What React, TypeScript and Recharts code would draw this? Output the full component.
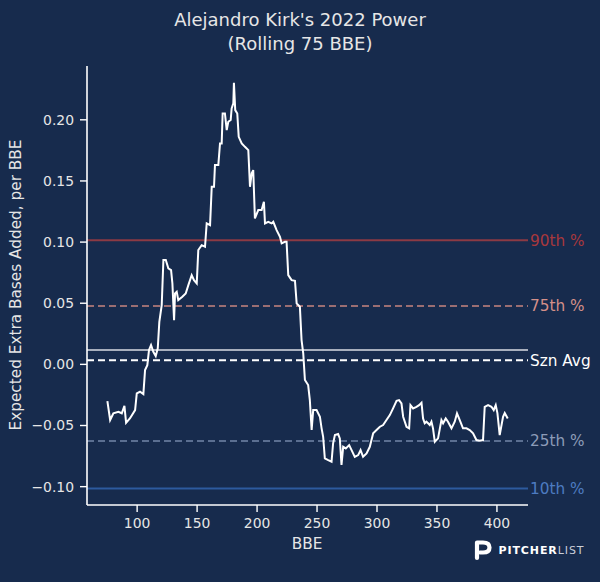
import React from 'react';
import { LineChart, Line, XAxis, YAxis, ReferenceLine } from 'recharts';

const bbe = [
  75.2, 77.5, 80.2, 84.4, 87.2, 89.4, 90.8, 94.1, 98.3, 99.7, 102.4, 105.2, 106.6, 108.5, 109.9, 111.6, 113.5, 115.5, 117.2, 118.5,
  120.5, 121.9, 123.9, 126.0, 128.3, 129.4, 130.8, 131.6, 133.0, 134.3, 137.7, 140.5, 142.7, 145.5, 147.4, 149.7, 151.0, 153.8, 156.6, 158.0,
  160.8, 162.2, 164.1, 164.9, 167.7, 169.1, 170.5, 171.3, 173.2, 174.7, 176.0, 178.0, 178.8, 180.2, 180.7, 181.8, 183.5, 184.7, 187.2, 189.9,
  192.7, 194.1, 195.5, 196.8, 198.2, 201.0, 203.8, 205.7, 206.6, 209.3, 212.1, 213.5, 216.3, 219.1, 220.5, 223.2, 224.6, 226.0, 228.8, 231.6,
  233.0, 235.7, 237.1, 238.5, 239.9, 242.6, 244.0, 245.5, 246.8, 249.6, 252.4, 253.8, 255.1, 256.5, 259.3, 262.1, 263.4, 264.9, 267.6, 269.0,
  270.4, 271.8, 274.0, 276.8, 278.8, 281.5, 284.3, 286.3, 288.4, 291.3, 294.0, 296.8, 299.6, 302.4, 305.1, 307.9, 310.7, 313.4, 316.3, 318.4,
  320.4, 321.8, 324.6, 326.8, 327.9, 330.1, 332.9, 335.1, 337.1, 338.4, 339.8, 341.2, 342.6, 344.0, 345.4, 346.7, 348.2, 350.9, 353.7, 355.1,
  357.3, 359.2, 362.1, 364.8, 366.7, 369.0, 371.7, 374.6, 377.3, 380.1, 382.9, 385.6, 388.4, 389.8, 392.6, 395.4, 397.3, 399.0, 400.4, 402.3,
  405.1, 406.5, 409.0,
];

const power = [
  -0.030, -0.0455, -0.040, -0.0388, -0.040, -0.034, -0.0478, -0.044, -0.0374, -0.0237, -0.0224, -0.0243, -0.0047, -0.0006, 0.0117, 0.0158, 0.0103, 0.0068, 0.0131, 0.0348,
  0.0485, 0.0853, 0.0853, 0.0785, 0.0771, 0.0662, 0.0362, 0.058, 0.0594, 0.0526, 0.0553, 0.058, 0.0648, 0.073, 0.0689, 0.0662, 0.0935, 0.0975, 0.0962, 0.1153,
  0.1139, 0.1452, 0.1452, 0.163, 0.163, 0.1807, 0.1807, 0.2052, 0.2052, 0.1916, 0.1984, 0.1998, 0.2093, 0.2134, 0.2303, 0.2079, 0.2052, 0.1861, 0.1807, 0.1779,
  0.1752, 0.1452, 0.1562, 0.1589, 0.1194, 0.1262, 0.1262, 0.133, 0.1153, 0.1166, 0.1153, 0.1166, 0.1098, 0.1043, 0.0989, 0.1002, 0.1002, 0.073, 0.0689, 0.0684,
  0.0499, 0.0471, 0.0199, 0.009, -0.0128, -0.0169, -0.0292, -0.0537, -0.0374, -0.0374, -0.0428, -0.0523, -0.0592, -0.0769, -0.0783, -0.0796, -0.0646, -0.0578, -0.057, -0.0605,
  -0.0823, -0.0674, -0.0687, -0.066, -0.0701, -0.0756, -0.0742, -0.0701, -0.0756, -0.0728, -0.0674, -0.0564, -0.0537, -0.051, -0.0496, -0.0455, -0.0415, -0.036, -0.0298, -0.0292,
  -0.0319, -0.0428, -0.051, -0.0523, -0.0333, -0.036, -0.0347, -0.0333, -0.0314, -0.0442, -0.0482, -0.0469, -0.0482, -0.0496, -0.0469, -0.0523, -0.0633, -0.0605, -0.0455, -0.0482,
  -0.0442, -0.0469, -0.0523, -0.0469, -0.0401, -0.0455, -0.0523, -0.0523, -0.0537, -0.0564, -0.0619, -0.0625, -0.0619, -0.0347, -0.0333, -0.0347, -0.0374, -0.0333, -0.0398, -0.0578,
  -0.0428, -0.0398, -0.0442,
];

const refLabels = ['90th %', '75th %', '', 'Szn Avg', '25th %', '10th %'];
const refValues = [0.1016, 0.0477, 0.0117, 0.0033, -0.0627, -0.1016];

const xTicks = [100, 150, 200, 250, 300, 350, 400];
const yTicks = [-0.1, -0.05, 0, 0.05, 0.1, 0.15, 0.2];

const titleLines = ["Alejandro Kirk's 2022 Power", '(Rolling 75 BBE)'];
const xLabel = 'BBE';
const yLabel = 'Expected Extra Bases Added, per BBE';

const BG = '#172b4d';
const FONT = '"DejaVu Sans", sans-serif';
const TXT = '#e6e6e6';

const refStyles = [
  { stroke: '#8c3a44', dash: undefined, label: '#a8383d', width: 2 },
  { stroke: '#9b6e72', dash: '7 4', label: '#d59089', width: 2 },
  { stroke: '#a8afbd', dash: undefined, label: '#a8afbd', width: 2 },
  { stroke: '#ffffff', dash: '7 4', label: '#ffffff', width: 2 },
  { stroke: '#5b6f91', dash: '7 4', label: '#8d9cb8', width: 2 },
  { stroke: '#2d5a9e', dash: undefined, label: '#4d7bc1', width: 2 },
];

const data = bbe.map((x, i) => ({ bbe: x, v: power[i] }));

const fmtY = (v: number) => {
  const s = Math.abs(v).toFixed(2);
  return v < -1e-9 ? '\u2212' + s : s;
};

export default function App() {
  return (
    <div
      style={{
        position: 'absolute',
        left: 0,
        top: 0,
        width: 600,
        height: 582,
        background: BG,
        fontFamily: FONT,
        overflow: 'hidden',
      }}
    >
      <div
        style={{
          position: 'absolute',
          left: 0,
          top: 8,
          width: 600,
          textAlign: 'center',
          color: TXT,
          fontSize: 18,
          lineHeight: '24px',
        }}
      >
        {titleLines.map((t) => (
          <div key={t}>{t}</div>
        ))}
      </div>
      <div style={{ position: 'absolute', left: 0, top: 0 }}>
        <LineChart
          width={600}
          height={582}
          data={data}
          margin={{ top: 66, right: 72, bottom: 47, left: 0 }}
        >
          <XAxis
            dataKey="bbe"
            type="number"
            domain={[58.2, 425.9]}
            allowDataOverflow
            ticks={xTicks}
            height={30}
            tickSize={7}
            tickMargin={6}
            axisLine={{ stroke: '#ffffff', strokeWidth: 1.6 }}
            tickLine={{ stroke: '#ffffff', strokeWidth: 1.4 }}
            tick={{ fill: TXT, fontSize: 13.9, fontFamily: FONT }}
          />
          <YAxis
            type="number"
            domain={[-0.115, 0.244]}
            allowDataOverflow
            ticks={yTicks}
            width={87}
            tickSize={7}
            tickMargin={6}
            tickFormatter={fmtY}
            axisLine={{ stroke: '#ffffff', strokeWidth: 1.6 }}
            tickLine={{ stroke: '#ffffff', strokeWidth: 1.4 }}
            tick={{ fill: TXT, fontSize: 13.9, fontFamily: FONT }}
          />
          {refValues.map((y, i) => (
            <ReferenceLine
              key={i}
              y={y}
              stroke={refStyles[i].stroke}
              strokeWidth={refStyles[i].width}
              strokeDasharray={refStyles[i].dash}
              label={
                refLabels[i]
                  ? {
                      value: refLabels[i],
                      position: 'right',
                      offset: 2,
                      fill: refStyles[i].label,
                      fontSize: 15.3,
                      fontFamily: FONT,
                    }
                  : undefined
              }
            />
          ))}
          <Line
            type="linear"
            dataKey="v"
            stroke="#ffffff"
            strokeWidth={2}
            dot={false}
            activeDot={false}
            isAnimationActive={false}
          />
        </LineChart>
      </div>
      <div
        style={{
          position: 'absolute',
          left: 307,
          top: 544,
          transform: 'translate(-50%, -50%)',
          color: TXT,
          fontSize: 15.3,
          whiteSpace: 'nowrap',
        }}
      >
        {xLabel}
      </div>
      <div
        style={{
          position: 'absolute',
          left: 16,
          top: 285,
          transform: 'translate(-50%, -50%) rotate(-90deg)',
          color: TXT,
          fontSize: 15.3,
          whiteSpace: 'nowrap',
        }}
      >
        {yLabel}
      </div>
      <svg
        style={{ position: 'absolute', left: 470, top: 536 }}
        width={130}
        height={32}
      >
        <path
          d="M7 22 L7 6.5 L13 6.5 Q19.5 6.5 19.5 11.5 Q19.5 16.5 13 16.5 L10 16.5"
          fill="none"
          stroke="#ffffff"
          strokeWidth={4.2}
          strokeLinecap="round"
          strokeLinejoin="round"
        />
        <text
          x={28.5}
          y={17.5}
          fontFamily={FONT}
          fontSize={11}
          fontWeight="bold"
          letterSpacing={0.9}
          fill="#ffffff"
        >
          PITCHER
          <tspan fontWeight="normal" fill="#c9ced8">
            LIST
          </tspan>
        </text>
      </svg>
    </div>
  );
}
